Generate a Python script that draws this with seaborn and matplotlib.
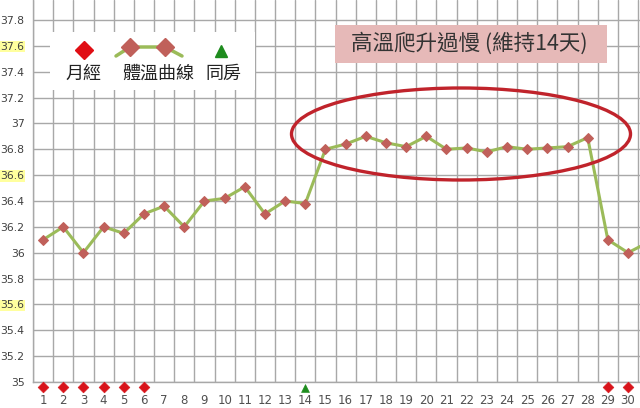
import matplotlib
matplotlib.use("Agg")
import matplotlib.pyplot as plt
from matplotlib.patches import Ellipse, Rectangle
from matplotlib.lines import Line2D
import seaborn as sns
import pandas as pd
import numpy as np

# ---- data ----
days = list(range(1, 32))
temps = [36.10, 36.20, 36.00, 36.20, 36.15, 36.30, 36.36, 36.20, 36.40, 36.42,
         36.51, 36.30, 36.40, 36.38, 36.80, 36.84, 36.90, 36.85, 36.82, 36.90,
         36.80, 36.81, 36.78, 36.82, 36.80, 36.81, 36.82, 36.89, 36.10, 36.00,
         36.08]
period_days = [1, 2, 3, 4, 5, 6, 29, 30]
sex_days = [14]
y_ticks = [35.0, 35.2, 35.4, 35.6, 35.8, 36.0, 36.2, 36.4, 36.6, 36.8,
           37.0, 37.2, 37.4, 37.6, 37.8]
y_tick_labels = ["35", "35.2", "35.4", "35.6", "35.8", "36", "36.2", "36.4",
                 "36.6", "36.8", "37", "37.2", "37.4", "37.6", "37.8"]
highlight_labels = ["35.6", "36.6", "37.6"]
x_tick_labels = [str(d) for d in range(1, 31)]
legend_labels = ["月經", "體溫曲線", "同房"]
note_text = "高溫爬升過慢 (維持14天)"

sns.set_theme(style="white")
plt.rcParams['font.family'] = ['Noto Sans CJK TC', 'DejaVu Sans']

W, H = 640, 408
fig = plt.figure(figsize=(W / 100, H / 100), dpi=100)
fig.patch.set_facecolor("white")

def fx(x):
    return x / W

def fy(y):
    return 1 - y / H

ax = fig.add_axes([fx(33), (408 - 382) / H, (640 - 33) / W, 382 / H])

df = pd.DataFrame({"day": days, "temp": temps})
sns.lineplot(data=df, x="day", y="temp", ax=ax, color="#9BBB59", linewidth=2.2,
             marker="D", markersize=5, markerfacecolor="#C0605A",
             markeredgecolor="#C0605A", zorder=4)

pdf = pd.DataFrame({"day": period_days, "y": [34.96] * len(period_days)})
sns.scatterplot(data=pdf, x="day", y="y", ax=ax, marker="D", s=30,
                color="#D8141B", edgecolor="#D8141B", zorder=5, clip_on=False)
sdf = pd.DataFrame({"day": sex_days, "y": [34.95] * len(sex_days)})
sns.scatterplot(data=sdf, x="day", y="y", ax=ax, marker="^", s=32,
                color="#1E8C1E", edgecolor="#1E8C1E", zorder=5, clip_on=False)
for coll in ax.collections:
    coll.set_clip_on(False)

ax.set_xlim(0.5, 0.5 + (640 - 33) / 20.17)
ax.set_ylim(35.0, 35.0 + 382 / 129.3)

ax.set_xticks(range(1, 31))
ax.set_xticklabels(x_tick_labels)
ax.set_xticks(np.arange(0.5, 31.0, 1.0), minor=True)
ax.set_yticks(y_ticks)
ax.set_yticklabels(y_tick_labels)

ax.grid(False)
ax.grid(which="minor", axis="x", color="#A8A8A8", linewidth=1.0)
ax.grid(which="major", axis="y", color="#A8A8A8", linewidth=1.0)
ax.tick_params(axis="both", which="both", length=0)
ax.tick_params(axis="x", pad=9, labelsize=8.5, labelcolor="#505050")
ax.tick_params(axis="y", pad=6, labelsize=7.8, labelcolor="#404040")
for lab in ax.get_yticklabels():
    if lab.get_text() in highlight_labels:
        lab.set_bbox(dict(facecolor="#FFFF9E", edgecolor="none", pad=0.5))
for lab in ax.get_xticklabels() + ax.get_yticklabels():
    lab.set_family(['DejaVu Sans'])
ax.set_xlabel("")
ax.set_ylabel("")
for s in ["top", "right"]:
    ax.spines[s].set_visible(False)
for s in ["left", "bottom"]:
    ax.spines[s].set_color("#A8A8A8")
    ax.spines[s].set_linewidth(1.0)

# ellipse around the high-temperature phase
ax.add_patch(Ellipse((0.5 + (461 - 33) / 20.17, 35.0 + (382 - 134) / 129.3),
                     339 / 20.17, 92 / 129.3, fill=False, edgecolor="#C0232B",
                     linewidth=2.4, zorder=6))

# note box
fig.add_artist(Rectangle((fx(335), fy(63)), fx(607 - 335), (63 - 25) / H,
                         transform=fig.transFigure, facecolor="#E6B9B8",
                         edgecolor="none", zorder=7))
fig.text(fx(469), fy(44), note_text, ha="center", va="center", fontsize=15.5,
         color="#333333", zorder=8)

# legend
fig.add_artist(Rectangle((fx(50), fy(90)), fx(255 - 50), (90 - 32) / H,
                         transform=fig.transFigure, facecolor="white",
                         edgecolor="none", zorder=7))
fig.add_artist(Line2D([fx(84)], [fy(50)], transform=fig.transFigure,
                      marker="D", markersize=9, color="#E00E14",
                      linestyle="none", zorder=8))
fig.add_artist(Line2D([fx(116), fx(130), fx(165), fx(182)],
                      [fy(56), fy(47), fy(47), fy(56)],
                      transform=fig.transFigure, color="#9BBB59",
                      linewidth=2.5, zorder=8))
fig.add_artist(Line2D([fx(130), fx(165)], [fy(47), fy(47)],
                      transform=fig.transFigure, marker="D", markersize=9,
                      color="#C0605A", linestyle="none", zorder=9))
fig.add_artist(Line2D([fx(221)], [fy(51)], transform=fig.transFigure,
                      marker="^", markersize=9, color="#1E8C1E",
                      linestyle="none", zorder=8))
for xc, lab in zip([83, 158, 223], legend_labels):
    fig.text(fx(xc), fy(74), lab, ha="center", va="center", fontsize=13,
             color="#222222", zorder=9)

fig.savefig("out.png", dpi=100)
